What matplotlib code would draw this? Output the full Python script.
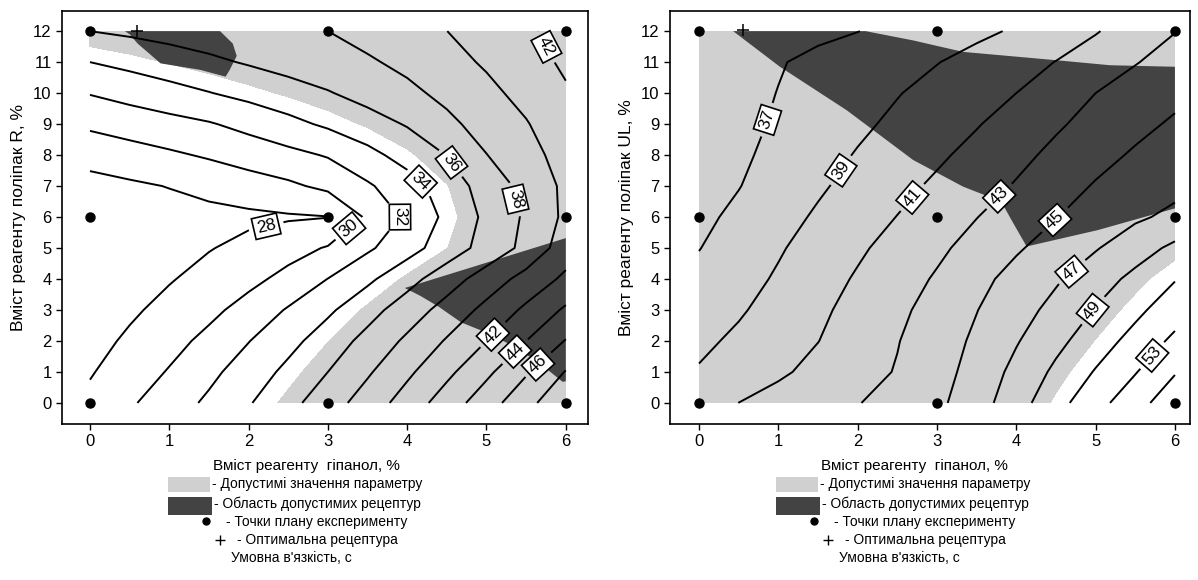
import numpy as np
import matplotlib
matplotlib.use("Agg")
import matplotlib.pyplot as plt
from matplotlib.lines import Line2D
from matplotlib.patches import Rectangle

plt.rcParams['font.family'] = ['Liberation Sans', 'DejaVu Sans']

# grid of the response surfaces (x - гіпанол, y - поліпак)
x_grid = [0, 0.5, 1, 1.5, 2, 2.5, 3, 3.5, 4, 4.5, 5, 5.5, 6]
y_grid = [0, 1, 2, 3, 4, 5, 6, 7, 8, 9, 10, 11, 12]

z_left = [
    [28.45, 29.75, 31.03, 32.36, 33.85, 35.41, 37.09, 38.91, 40.86, 42.96, 45.11, 47.38, 49.6],
    [27.85, 28.98, 30.14, 31.51, 32.96, 34.46, 36.0, 37.75, 39.62, 41.54, 43.58, 45.78, 48.1],
    [27.3, 28.33, 29.35, 30.51, 31.94, 33.41, 34.95, 36.6, 38.36, 40.18, 42.0, 44.0, 46.1],
    [26.8, 27.68, 28.59, 29.52, 30.71, 32.18, 33.67, 35.29, 36.97, 38.73, 40.55, 42.38, 44.3],
    [26.5, 27.18, 27.86, 28.66, 29.49, 30.56, 32.03, 33.62, 35.31, 37.09, 38.91, 40.69, 42.4],
    [26.7, 27.1, 27.5, 27.9, 28.53, 29.3, 30.15, 31.69, 33.25, 34.96, 36.71, 38.53, 41.0],
    [26.8, 27.0, 27.2, 27.4, 27.6, 27.8, 27.95, 30.29, 32.38, 34.44, 36.41, 38.3, 40.4],
    [27.3, 27.68, 28.07, 28.6, 29.12, 29.65, 30.44, 31.74, 33.19, 34.92, 36.84, 38.62, 40.4],
    [28.75, 29.22, 29.7, 30.22, 30.84, 31.46, 32.15, 33.44, 34.73, 36.04, 37.96, 39.27, 40.8],
    [30.35, 30.85, 31.34, 31.84, 32.59, 33.45, 34.32, 35.2, 36.14, 37.55, 38.76, 39.87, 41.3],
    [32.1, 32.71, 33.32, 33.93, 34.57, 35.22, 35.87, 36.69, 37.55, 38.49, 39.51, 40.6, 41.8],
    [34.0, 34.54, 35.09, 35.63, 36.17, 36.7, 37.23, 37.76, 38.47, 39.34, 40.24, 41.25, 42.3],
    [36.0, 36.33, 36.67, 37.0, 37.33, 37.67, 38.0, 38.66, 39.32, 39.99, 40.86, 41.74, 42.6],
]

z_right = [
    [39.9, 41.01, 41.65, 42.29, 42.92, 43.75, 44.59, 46.11, 48.18, 50.3, 52.31, 54.21, 56.3],
    [39.15, 39.93, 40.72, 41.5, 42.29, 43.12, 44.28, 45.7, 47.56, 49.39, 51.14, 52.89, 54.86],
    [38.6, 39.35, 40.16, 40.97, 41.94, 42.92, 44.08, 45.33, 46.85, 48.48, 50.06, 51.67, 53.43],
    [38.0, 38.79, 39.7, 40.64, 41.61, 42.59, 43.72, 44.95, 46.22, 47.58, 49.11, 50.54, 52.1],
    [37.45, 38.32, 39.22, 40.21, 41.2, 42.18, 43.2, 44.45, 45.64, 46.77, 48.1, 49.51, 50.9],
    [36.95, 37.86, 38.81, 39.76, 40.71, 41.67, 42.63, 43.68, 44.78, 45.82, 46.86, 48.12, 49.43],
    [36.6, 37.38, 38.32, 39.25, 40.14, 41.04, 42.0, 42.96, 43.95, 44.94, 45.82, 46.7, 47.44],
    [36.35, 36.94, 37.83, 38.74, 39.61, 40.46, 41.32, 42.23, 43.15, 44.19, 45.15, 45.82, 46.5],
    [36.15, 36.72, 37.44, 38.29, 39.13, 39.91, 40.69, 41.56, 42.5, 43.44, 44.39, 45.23, 45.88],
    [36.0, 36.57, 37.19, 37.91, 38.64, 39.38, 40.13, 40.88, 41.8, 42.75, 43.63, 44.49, 45.26],
    [35.85, 36.44, 37.04, 37.66, 38.29, 38.91, 39.6, 40.3, 41.0, 42.0, 43.0, 43.76, 44.52],
    [35.7, 36.29, 36.88, 37.41, 37.92, 38.43, 38.94, 39.62, 40.32, 41.04, 41.97, 42.91, 43.69],
    [35.6, 35.94, 36.29, 36.63, 36.97, 37.5, 38.05, 38.6, 39.21, 40.04, 40.87, 41.93, 42.95],
]

levels_left = [28, 30, 32, 34, 36, 38, 40, 42, 44, 46, 48]
levels_right = [37, 39, 41, 43, 45, 47, 49, 51, 53, 55]

# admissible value of the parameter
admissible_left = (35, 100)
admissible_right = (0, 50)

# region of admissible recipes (outlines)
dark_left_top_x = [0.44, 1.64, 1.8, 1.85, 1.76, 1.71, 1.39, 0.89, 0.6, 0.5]
dark_left_top_y = [12.0, 12.0, 11.6, 11.2, 10.74, 10.53, 10.75, 10.96, 11.6, 11.9]
dark_left_bot_x = [3.97, 6.0, 6.0, 5.96, 5.71, 5.37, 4.98, 4.68, 4.4, 4.17]
dark_left_bot_y = [3.71, 5.32, 0.7, 0.68, 1.2, 1.8, 2.29, 2.6, 3.1, 3.45]
dark_right_x = [0.43, 2.1, 2.7, 3.33, 4.51, 5.18, 6.0, 6.0, 5.03, 4.13, 3.94, 3.81,
                3.33, 2.7, 1.86, 1.02]
dark_right_y = [12.0, 12.0, 11.7, 11.33, 11.06, 10.9, 10.85, 6.28, 5.58, 5.05, 5.9, 6.5,
                6.98, 7.84, 9.45, 10.85]

plan_x = [0, 3, 6]
plan_y = [0, 6, 12]
opt_left = (0.59, 12.0)
opt_right = (0.55, 12.05)

ylabels = ["Вміст реагенту поліпак R, %", "Вміст реагенту поліпак UL, %"]
xlabel = "Вміст реагенту  гіпанол, %"
legend_texts = ["- Допустимі значення параметру", "- Область допустимих рецептур",
                "- Точки плану експерименту", "- Оптимальна рецептура",
                "Умовна в'язкість, с"]

label_pos_left = [(2.24, 5.5), (3.28, 5.6), (3.93, 6.03), (4.21, 7.26), (4.58, 7.8),
                  (5.4, 6.6), (5.71, 11.43), (5.11, 2.13), (5.36, 1.66), (5.65, 1.24)]
label_pos_right = [(0.87, 9.13), (1.77, 7.54), (2.69, 6.63), (3.8, 6.63), (4.49, 5.9),
                   (4.69, 4.26), (4.96, 3.0), (5.71, 1.54)]

LIGHT = '#d0d0d0'
DARK = '#434343'
W, H = 1198, 580

fig = plt.figure(figsize=(W / 100, H / 100), dpi=100)


def fx(px):
    return px / W


def fy(py):
    return 1 - py / H


def draw_panel(left_px, width_px, z, levels, adm, darks, opt, label_pos, ylab, xlim):
    ax = fig.add_axes([fx(left_px), fy(424), fx(width_px), 413 / H])
    X, Y = np.meshgrid(x_grid, y_grid)
    Z = np.array(z)
    ax.contourf(X, Y, Z, levels=list(adm), colors=[LIGHT], zorder=1)
    for dx, dy in darks:
        ax.fill(dx, dy, color=DARK, lw=0, zorder=2)
    cs = ax.contour(X, Y, Z, levels=levels, colors='black', linewidths=1.4, zorder=3)
    texts = ax.clabel(cs, inline=True, fontsize=12.5, fmt='%d', manual=label_pos,
                      inline_spacing=10)
    for t in texts:
        t.set_bbox(dict(boxstyle='square,pad=0.18', fc='white', ec='black', lw=1.2))
        t.set_zorder(5)
    px, py = np.meshgrid(plan_x, plan_y)
    ax.plot(px.ravel(), py.ravel(), 'o', color='black', ms=6.5, clip_on=False, zorder=6)
    ax.plot([opt[0]], [opt[1]], '+', color='black', ms=8, mew=1.1, clip_on=False, zorder=6)
    ax.set_xlim(*xlim)
    ax.set_ylim(-0.68, 12.65)
    ax.set_xticks(range(0, 7))
    ax.set_yticks(range(0, 13))
    ax.tick_params(direction='out', length=4, width=1, labelsize=12)
    for s in ax.spines.values():
        s.set_linewidth(1.2)
    ax.set_ylabel(ylab, fontsize=12.5, labelpad=5)
    return ax


ax1 = draw_panel(62, 526, z_left, levels_left, admissible_left,
                 [(dark_left_top_x, dark_left_top_y), (dark_left_bot_x, dark_left_bot_y)],
                 opt_left, label_pos_left, ylabels[0], (-0.353, 6.28))
ax2 = draw_panel(670, 520, z_right, levels_right, admissible_right,
                 [(dark_right_x, dark_right_y)],
                 opt_right, label_pos_right, ylabels[1], (-0.366, 6.19))

for off in (0, 608):
    fig.text(fx(213 + off), fy(466), xlabel, fontsize=11, va='center', ha='left')
    fig.patches.append(Rectangle((fx(168 + off), fy(492)), fx(42), 15 / H,
                                 transform=fig.transFigure, fc=LIGHT, ec='none'))
    fig.patches.append(Rectangle((fx(168 + off), fy(515)), fx(44), 18 / H,
                                 transform=fig.transFigure, fc=DARK, ec='none'))
    fig.text(fx(212 + off), fy(484), legend_texts[0], fontsize=10, va='center')
    fig.text(fx(214 + off), fy(504), legend_texts[1], fontsize=10, va='center')
    fig.add_artist(Line2D([fx(206 + off)], [fy(521)], marker='o', color='black', ms=5,
                          transform=fig.transFigure))
    fig.text(fx(226 + off), fy(522), legend_texts[2], fontsize=10, va='center')
    fig.add_artist(Line2D([fx(220 + off)], [fy(540)], marker='+', color='black', ms=7,
                          transform=fig.transFigure))
    fig.text(fx(237 + off), fy(540), legend_texts[3], fontsize=10, va='center')
    fig.text(fx(231 + off), fy(558), legend_texts[4], fontsize=10, va='center')

fig.savefig("out.png", dpi=100)
